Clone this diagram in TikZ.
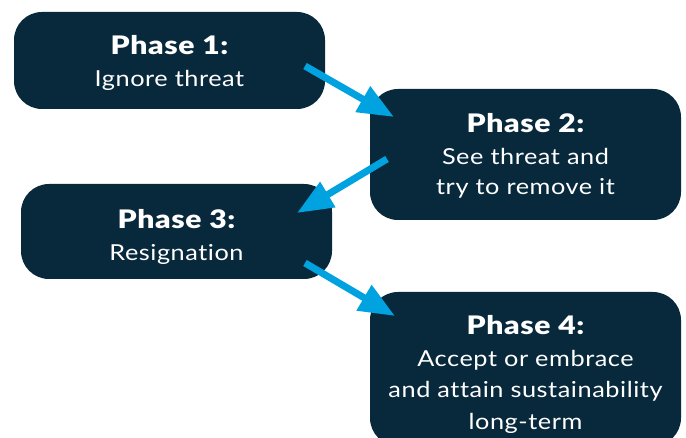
\documentclass[tikz,border=0pt]{standalone}
\usepackage{fontspec}
\setmainfont{Lato}[Ligatures=NoCommon, FakeStretch=1.15, LetterSpace=2.5]
\newfontfamily\headfont{Lato Black}[Ligatures=NoCommon, FakeStretch=1.18, LetterSpace=2.5]
\usetikzlibrary{arrows.meta}
\definecolor{navy}{HTML}{08283C}
\definecolor{arrowblue}{HTML}{00A3E0}
\tikzset{
  phasebox/.style={fill=navy, draw=none, rounded corners=28pt, inner sep=0pt},
  phasetext/.style={text=white, anchor=base, inner sep=0pt, font=\fontsize{22}{26}\selectfont},
  phasehead/.style={text=white, anchor=base, inner sep=0pt, font=\headfont\fontsize{25.5}{30}\selectfont},
  flow/.style={draw=arrowblue, line width=7pt, -{Triangle[length=36pt,width=28pt]}},
}
\begin{document}
\begin{tikzpicture}[x=1pt,y=-1pt]
\useasboundingbox (0,0) rectangle (686,438);

% the four phase boxes
\node[phasebox, minimum width=311pt, minimum height=97pt]  (box1) at (169.5,60.5) {};
\node[phasebox, minimum width=311pt, minimum height=131pt] (box2) at (525.5,154.5) {};
\node[phasebox, minimum width=311pt, minimum height=95pt]  (box3) at (176.5,231.5) {};
\node[phasebox, minimum width=311pt, minimum height=154pt] (box4) at (525.5,369) {};

% box captions
\node[phasehead] (h1) at (169.5,55) {Phase 1:};
\node[phasetext] (t1) at (169.5,87) {Ignore threat};

\node[phasehead] (h2) at (525.5,133) {Phase 2:};
\node[phasetext] (t2a) at (525.5,165) {See threat and};
\node[phasetext] (t2b) at (525.5,195) {try to remove it};

\node[phasehead] (h3) at (176.5,229) {Phase 3:};
\node[phasetext] (t3) at (176.5,261) {Resignation};

\node[phasehead] (h4) at (525.5,335) {Phase 4:};
\node[phasetext] (t4a) at (525.5,367) {Accept or embrace};
\node[phasetext] (t4b) at (525.5,398) {and attain sustainability};
\node[phasetext] (t4c) at (525.5,430) {long-term};

% arrow end points
\coordinate (a1s) at (305,66);
\coordinate (a1e) at (394,117);
\coordinate (a2s) at (387,159);
\coordinate (a2e) at (297,213);
\coordinate (a3s) at (305,263);
\coordinate (a3e) at (395,316);

\draw[flow] (a1s) -- (a1e);
\draw[flow] (a2s) -- (a2e);
\draw[flow] (a3s) -- (a3e);
\end{tikzpicture}
\end{document}
